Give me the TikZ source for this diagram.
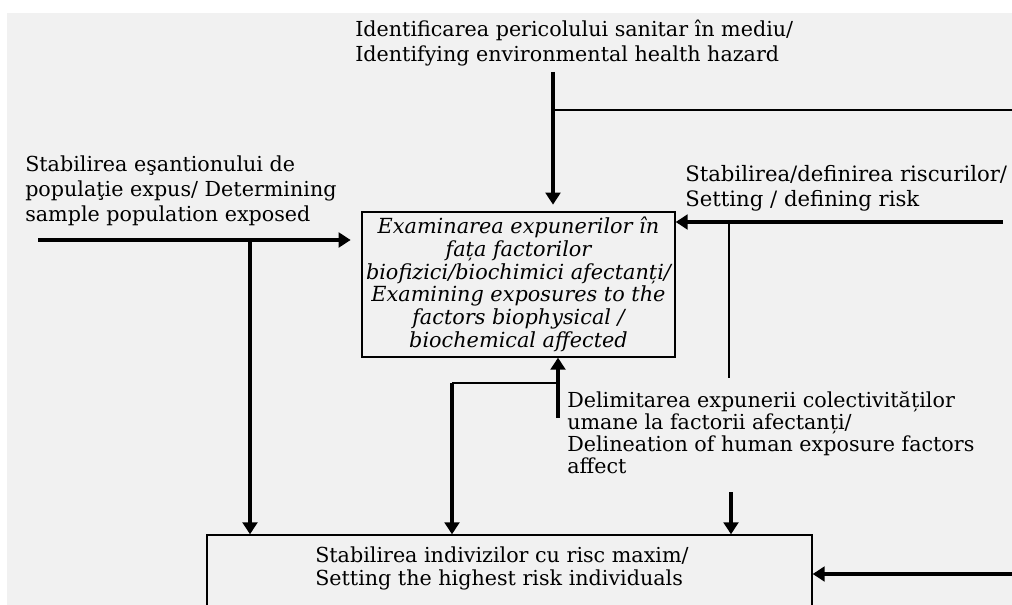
\documentclass[tikz,border=0pt]{standalone}
\usepackage{fontspec}
\setmainfont{DejaVu Serif}
\usetikzlibrary{arrows.meta}
\definecolor{bg}{HTML}{F1F1F1}
\tikzset{
  lbl/.style={inner sep=0pt, align=left, font=\fontsize{15.5}{18.75}\selectfont},
  thk/.style={line width=2.7pt},
  thn/.style={line width=1.2pt},
  arr/.style={thk, -{Triangle[length=9pt,width=11pt]}},
  boxn/.style={draw, line width=1pt, inner sep=0pt, fill=bg},
}
\begin{document}
\begin{tikzpicture}[x=0.75pt,y=-0.75pt]
\clip (0,0) rectangle (1012,605);
\fill[bg] (7,13) rectangle (1012,605);
% boxes
\node[boxn, minimum width=234.75pt, minimum height=108.75pt, align=center,
      font=\fontsize{15.6}{17}\selectfont\itshape] (box1) at (518.5,284.5)
  {Examinarea expunerilor în\\fața factorilor\\biofizici/biochimici afectanți/\\Examining exposures to the\\factors biophysical /\\biochemical affected};
\node[boxn, minimum width=453.75pt, minimum height=93.75pt] (box2) at (509.5,597.5) {};
\node[lbl, anchor=base west, font=\fontsize{15.5}{17.25}\selectfont] (t2) at (315,585)
  {Stabilirea indivizilor cu risc maxim/\\Setting the highest risk individuals};
% labels
\node[lbl, anchor=base west] (haz) at (355,62)
  {Identificarea pericolului sanitar în mediu/\\Identifying environmental health hazard};
\node[lbl, anchor=base west] (smp) at (25,222)
  {Stabilirea eşantionului de\\populaţie expus/ Determining\\sample population exposed};
\node[lbl, anchor=base west, font=\fontsize{15.9}{18.75}\selectfont] (rsk) at (685,207)
  {Stabilirea/definirea riscurilor/\\Setting / defining risk};
\node[lbl, anchor=base west, font=\fontsize{15.5}{16.5}\selectfont] (del) at (567,473)
  {Delimitarea expunerii colectivităților\\umane la factorii afectanți/\\Delineation of human exposure factors\\affect};
% connectors
\coordinate (a1) at (553,72);
\draw[arr, shorten >=5pt] (a1) -- (a1 |- box1.north);
\coordinate (a2) at (553,110); \coordinate (a2e) at (1012,110);
\draw[thn] (a2) -- (a2e);
\coordinate (a3) at (38,240);
\draw[arr, shorten >=8pt] (a3) -- (a3 -| box1.west);
\coordinate (a4) at (250,240);
\draw[arr] (a4) -- (a4 |- box2.north);
\coordinate (a5) at (1003,222);
\draw[arr] (a5) -- (a5 -| box1.east);
\coordinate (a6) at (729,222); \coordinate (a6e) at (729,378);
\draw[thn] (a6) -- (a6e);
\coordinate (a7) at (558,418);
\draw[arr] (a7) -- (a7 |- box1.south);
\coordinate (a8) at (558,383); \coordinate (a8w) at (452,383);
\draw[thn] (a8) -- (a8w);
\draw[arr] (a8w) -- (a8w |- box2.north);
\coordinate (a9) at (731,492);
\draw[arr] (a9) -- (a9 |- box2.north);
\coordinate (a10) at (1012,574);
\draw[arr] (a10) -- (a10 -| box2.east);
\end{tikzpicture}
\end{document}
